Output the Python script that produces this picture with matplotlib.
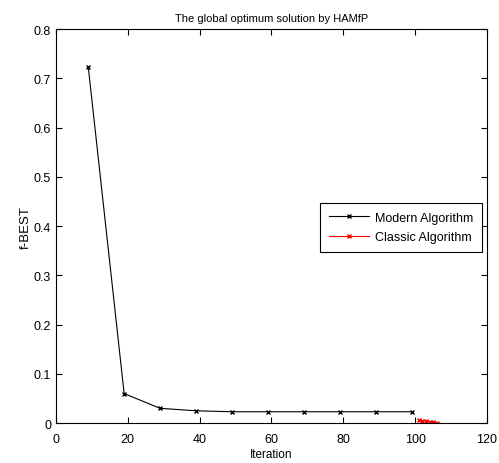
import matplotlib
matplotlib.use("Agg")
import matplotlib.pyplot as plt

plt.rcParams["font.family"] = ["Liberation Sans", "DejaVu Sans"]

modern_x = [9, 19, 29, 39, 49, 59, 69, 79, 89, 99]
modern_y = [0.724, 0.060, 0.030, 0.025, 0.023, 0.023, 0.023, 0.023, 0.023, 0.023]
classic_x = [101, 102, 103, 104, 105, 106]
classic_y = [0.007, 0.005, 0.004, 0.003, 0.002, 0.001]

fig = plt.figure(figsize=(4.99, 4.64), dpi=100)
ax = fig.add_axes([0.112, 0.086, 0.864, 0.849])

ax.plot(modern_x, modern_y, color="black", marker="x", markersize=3.5, linewidth=0.8,
        label="Modern Algorithm")
ax.plot(classic_x, classic_y, color="red", marker="x", markersize=3.5, linewidth=0.8,
        label="Classic Algorithm")

ax.set_xlim(0, 120)
ax.set_ylim(0, 0.8)
ax.set_xticks(range(0, 121, 20))
ax.set_yticks([i / 10 for i in range(9)])
ax.set_yticklabels(["0"] + [f"{i / 10:.1f}" for i in range(1, 9)])
ax.tick_params(direction="in", top=True, right=True, labelsize=9, length=4, width=0.8)
ax.tick_params(axis="x", pad=7)
for s in ax.spines.values():
    s.set_linewidth(0.8)

ax.set_title("The global optimum solution by HAMfP", fontsize=8)
ax.set_xlabel("Iteration", fontsize=8.5, labelpad=2)
ax.set_ylabel("f-BEST", fontsize=9.5, labelpad=1)

leg = ax.legend(loc="center right", bbox_to_anchor=(1.004, 0.497), fontsize=9,
                fancybox=False, edgecolor="black", framealpha=1,
                borderpad=0.7, handlelength=3.2, handletextpad=0.5, labelspacing=0.6)
leg.get_frame().set_linewidth(0.8)

fig.savefig("out.png", dpi=100)
